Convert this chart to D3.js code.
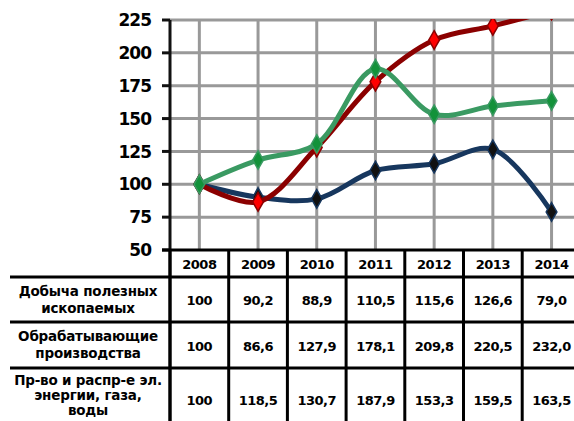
<!DOCTYPE html>
<html>
<head>
<meta charset="utf-8">
<script src="https://cdn.jsdelivr.net/npm/d3@7"></script>
<style>
  body { margin: 0; background: #fff; }
  svg { display: block; }
  text { font-family: "DejaVu Sans", sans-serif; font-weight: bold; fill: #000; }
</style>
</head>
<body>
<svg id="chart" width="574" height="421"></svg>
<script>
// --- data ---
var years = ["2008", "2009", "2010", "2011", "2012", "2013", "2014"];
var mining = [100, 90.2, 88.9, 110.5, 115.6, 126.6, 79.0];
var manufacturing = [100, 86.6, 127.9, 178.1, 209.8, 220.5, 232.0];
var utilities = [100, 118.5, 130.7, 187.9, 153.3, 159.5, 163.5];
var rowLabels = [
    ["Добыча полезных", "ископаемых"],
    ["Обрабатывающие", "производства"],
    ["Пр-во и распр-е эл.", "энергии, газа,", "воды"]
];
var yTicks = [50, 75, 100, 125, 150, 175, 200, 225];

var series = [
    {values: mining, line: "#17375e", marker: "#111"},
    {values: manufacturing, line: "#8b0000", marker: "#ff0000"},
    {values: utilities, line: "#3a9a62", marker: "#13923a"}
];

var svg = d3.select("#chart");

// "top" is taken by window.top, so plotTop / plotBottom
var plotLeft = 170, plotTop = 20, plotBottom = 250, colW = 58.7;
var x = d3.scaleBand().domain(years).range([plotLeft, plotLeft + colW * years.length]).padding(0);
var y = d3.scaleLinear().domain([50, 225]).range([plotBottom, plotTop]);
var cx = function (d, i) { return x(years[i]) + x.bandwidth() / 2; };

/* grid */
svg.append("g").selectAll("line").data(yTicks.slice(1)).enter().append("line")
    .attr("x1", plotLeft).attr("x2", 574)
    .attr("y1", function (d) { return y(d); }).attr("y2", function (d) { return y(d); })
    .attr("stroke", "#999").attr("stroke-width", 3);

svg.append("g").selectAll("line").data(years).enter().append("line")
    .attr("x1", function (d) { return x(d) + x.bandwidth() / 2; })
    .attr("x2", function (d) { return x(d) + x.bandwidth() / 2; })
    .attr("y1", plotTop).attr("y2", plotBottom)
    .attr("stroke", "#999").attr("stroke-width", 3);

/* y axis */
svg.append("line").attr("x1", plotLeft).attr("x2", plotLeft).attr("y1", plotTop).attr("y2", 421)
    .attr("stroke", "#111").attr("stroke-width", 3);
svg.append("g").selectAll("line").data(yTicks).enter().append("line")
    .attr("x1", plotLeft - 8).attr("x2", plotLeft)
    .attr("y1", function (d) { return y(d); }).attr("y2", function (d) { return y(d); })
    .attr("stroke", "#111").attr("stroke-width", 3);
svg.append("g").selectAll("text").data(yTicks).enter().append("text")
    .attr("x", 151).attr("y", function (d) { return y(d); })
    .attr("dy", "0.36em").attr("text-anchor", "end")
    .style("font-size", "17px").style("letter-spacing", "-1px")
    .text(function (d) { return d; });

/* lines, clipped to the plot */
svg.append("clipPath").attr("id", "plot")
    .append("rect").attr("x", plotLeft).attr("y", plotTop - 1)
    .attr("width", 574 - plotLeft).attr("height", plotBottom - plotTop + 1);

var line = d3.line()
    .x(cx)
    .y(function (d) { return y(d); })
    .curve(d3.curveCatmullRom.alpha(0.5));

var diamond = d3.symbol().type(d3.symbolDiamond).size(100);

var g = svg.append("g").attr("clip-path", "url(#plot)");
series.forEach(function (s) {
    g.append("path").datum(s.values)
        .attr("d", line)
        .attr("fill", "none")
        .attr("stroke", s.line)
        .attr("stroke-width", 5)
        .attr("stroke-linejoin", "round");
    g.selectAll(null).data(s.values).enter().append("path")
        .attr("d", diamond)
        .attr("transform", function (d, i) { return "translate(" + cx(d, i) + "," + y(d) + ")"; })
        .attr("fill", s.marker)
        .attr("stroke", s.line)
        .attr("stroke-width", 1.5);
});

/* table */
var rowY = [plotBottom, 277, 322, 368];

// column borders run from the x axis down through the table
svg.append("g").selectAll("line").data(d3.range(years.length + 1)).enter().append("line")
    .attr("x1", function (d) { return plotLeft + d * colW; })
    .attr("x2", function (d) { return plotLeft + d * colW; })
    .attr("y1", plotBottom).attr("y2", 421)
    .attr("stroke", "#000").attr("stroke-width", 3);

svg.append("line").attr("x1", plotLeft - 8).attr("x2", 574).attr("y1", plotBottom).attr("y2", plotBottom)
    .attr("stroke", "#000").attr("stroke-width", 3);
svg.append("g").selectAll("line").data(rowY.slice(1)).enter().append("line")
    .attr("x1", 10).attr("x2", 574)
    .attr("y1", function (d) { return d; }).attr("y2", function (d) { return d; })
    .attr("stroke", "#000").attr("stroke-width", 3);

svg.append("g").selectAll("text").data(years).enter().append("text")
    .attr("x", function (d) { return x(d) + x.bandwidth() / 2; })
    .attr("y", (rowY[0] + rowY[1]) / 2 + 1)
    .attr("dy", "0.36em").attr("text-anchor", "middle")
    .style("font-size", "13px").style("letter-spacing", "-0.5px")
    .text(function (d) { return d; });

var fmt = function (v) { return v === 100 ? "100" : d3.format(".1f")(v).replace(".", ","); };
var rowCenters = [299.5, 345, 399];

series.forEach(function (s, r) {
    svg.append("g").selectAll("text").data(s.values).enter().append("text")
        .attr("x", cx)
        .attr("y", rowCenters[r] + 1)
        .attr("dy", "0.36em").attr("text-anchor", "middle")
        .style("font-size", "13px").style("letter-spacing", "-0.5px")
        .text(fmt);

    var lines = rowLabels[r];
    var lead = r < 2 ? 17 : 15;
    var y0 = r < 2 ? rowCenters[r] - (lines.length - 1) * lead / 2 : 380;
    svg.append("g").selectAll("text").data(lines).enter().append("text")
        .attr("x", 88)
        .attr("y", function (d, i) { return y0 + i * lead; })
        .attr("dy", "0.36em").attr("text-anchor", "middle")
        .style("font-size", "13.5px").style("letter-spacing", "-0.2px")
        .text(function (d) { return d; });
});
</script>
</body>
</html>
